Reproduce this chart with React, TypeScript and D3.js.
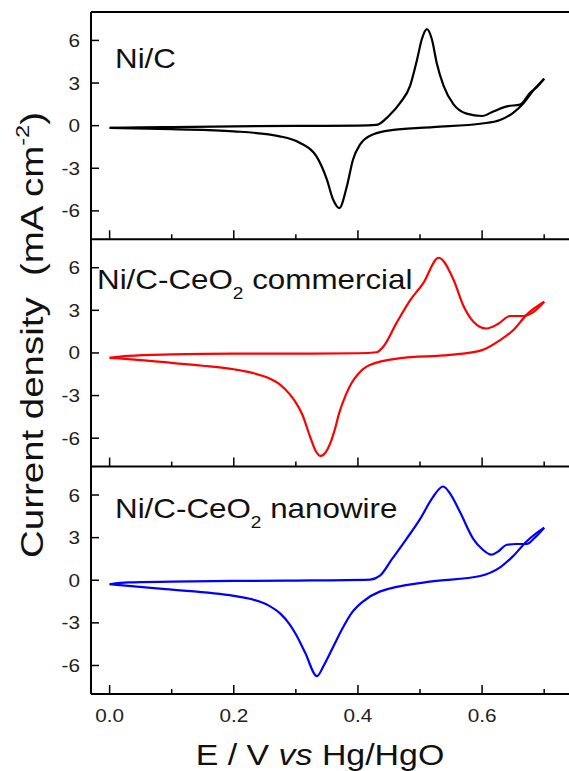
import React from "react";
import * as d3 from "d3";

// potential (V vs Hg/HgO) and current density (mA cm-2)
// forward (anodic) scan and reverse (cathodic) scan, both listed with E ascending
const niC_fwd_E = [0, 0.05, 0.1, 0.2, 0.3, 0.4, 0.43, 0.45, 0.468, 0.484, 0.495, 0.503, 0.511, 0.519, 0.527, 0.538, 0.554, 0.575, 0.6, 0.618, 0.64, 0.661, 0.677, 0.69, 0.7];
const niC_fwd_j = [-0.15, -0.12, -0.1, -0.05, -0.02, 0, 0.05, 0.7, 1.6, 2.8, 4.6, 6.1, 6.8, 6.1, 4.4, 2.8, 1.5, 0.85, 0.68, 1.0, 1.36, 1.48, 2.3, 2.8, 3.3];
const niC_rev_E = [0, 0.1, 0.2, 0.274, 0.306, 0.333, 0.35, 0.36, 0.37, 0.382, 0.392, 0.403, 0.425, 0.457, 0.521, 0.6, 0.629, 0.65, 0.667, 0.683, 0.7];
const niC_rev_j = [-0.15, -0.25, -0.4, -0.75, -1.2, -2.15, -3.8, -5.2, -5.8, -4.3, -2.4, -1.35, -0.6, -0.3, -0.1, 0.15, 0.4, 0.9, 1.6, 2.5, 3.3];

const comm_fwd_E = [0, 0.03, 0.1, 0.2, 0.3, 0.4, 0.43, 0.441, 0.462, 0.484, 0.505, 0.53, 0.554, 0.57, 0.586, 0.607, 0.626, 0.645, 0.667, 0.68, 0.69, 0.7];
const comm_fwd_j = [-0.35, -0.2, -0.1, -0.05, -0.05, -0.02, 0.05, 0.45, 2.1, 3.7, 4.9, 6.7, 5.15, 3.3, 2.2, 1.72, 2.05, 2.6, 2.6, 2.8, 3.15, 3.6];
const comm_rev_E = [0, 0.05, 0.1, 0.15, 0.2, 0.23, 0.255, 0.275, 0.29, 0.3, 0.31, 0.323, 0.332, 0.34, 0.348, 0.355, 0.362, 0.37, 0.38, 0.39, 0.4, 0.419, 0.468, 0.548, 0.6, 0.629, 0.65, 0.672, 0.7];
const comm_rev_j = [-0.35, -0.5, -0.7, -0.9, -1.15, -1.4, -1.75, -2.25, -2.9, -3.5, -4.3, -5.9, -6.9, -7.25, -7.0, -6.4, -5.5, -4.2, -3.0, -2.1, -1.5, -0.85, -0.37, -0.14, 0.2, 0.9, 1.6, 2.7, 3.6];

const nano_fwd_E = [0, 0.03, 0.1, 0.2, 0.3, 0.42, 0.435, 0.455, 0.478, 0.5, 0.52, 0.537, 0.55, 0.565, 0.586, 0.6, 0.615, 0.625, 0.64, 0.655, 0.672, 0.685, 0.7];
const nano_fwd_j = [-0.28, -0.15, -0.1, -0.05, -0.02, 0.05, 0.3, 1.5, 2.9, 4.3, 5.8, 6.6, 6.0, 4.75, 2.9, 2.2, 1.8, 2.0, 2.5, 2.55, 2.55, 3.0, 3.7];
const nano_rev_E = [0, 0.09, 0.2, 0.23, 0.255, 0.275, 0.29, 0.3, 0.315, 0.334, 0.345, 0.36, 0.375, 0.39, 0.408, 0.435, 0.516, 0.597, 0.629, 0.65, 0.672, 0.7];
const nano_rev_j = [-0.28, -0.63, -1.1, -1.35, -1.75, -2.35, -3.1, -3.8, -5.1, -6.75, -6.0, -4.7, -3.4, -2.3, -1.5, -0.8, -0.1, 0.3, 0.9, 1.7, 2.75, 3.7];

const yTicks = [-6, -3, 0, 3, 6];
const xMajor = [0, 0.2, 0.4, 0.6];
const xMinor = [0.1, 0.3, 0.5, 0.7];

const panels = [
  { name: "Ni/C", sub: "", rest: "", color: "#000000", fE: niC_fwd_E, fj: niC_fwd_j, rE: niC_rev_E, rj: niC_rev_j, lx: 115, ly: 56 },
  { name: "Ni/C-CeO", sub: "2", rest: " commercial", color: "#ff0000", fE: comm_fwd_E, fj: comm_fwd_j, rE: comm_rev_E, rj: comm_rev_j, lx: 97, ly: 50 },
  { name: "Ni/C-CeO", sub: "2", rest: " nanowire", color: "#0000ff", fE: nano_fwd_E, fj: nano_fwd_j, rE: nano_rev_E, rj: nano_rev_j, lx: 115, ly: 51 },
];

const W = 569;
const H = 771;
const left = 91;
const right = 569;
const top0 = 12;
const panelH = 227.3;
const font = "Arial, 'Liberation Sans', sans-serif";

export default function App() {
  const x = d3.scaleLinear().domain([-0.03, 0.74]).range([left, right]);
  const bottom = top0 + panelH * panels.length;

  return (
    <svg width={W} height={H} style={{ position: "absolute", left: 0, top: 0, background: "#fff" }} fontFamily={font}>
      {panels.map((p, i) => {
        const t = top0 + i * panelH;
        const y = d3.scaleLinear().domain([-8, 8]).range([t + panelH, t]);
        const line = d3.line<[number, number]>().x(d => x(d[0])).y(d => y(d[1])).curve(d3.curveMonotoneX);
        const fwd = p.fE.map((e, k) => [e, p.fj[k]] as [number, number]);
        const rev = p.rE.map((e, k) => [e, p.rj[k]] as [number, number]);
        return (
          <g key={i}>
            <path d={line(fwd) || ""} fill="none" stroke={p.color} strokeWidth={2.2} strokeLinejoin="round" />
            <path d={line(rev) || ""} fill="none" stroke={p.color} strokeWidth={2.2} strokeLinejoin="round" />
            {/* bottom axis with inward ticks */}
            <line x1={left} x2={right} y1={t + panelH} y2={t + panelH} stroke="#000" strokeWidth={2} />
            {xMajor.map(v => (
              <line key={"M" + v} x1={x(v)} x2={x(v)} y1={t + panelH} y2={t + panelH - 9} stroke="#000" strokeWidth={1.5} />
            ))}
            {xMinor.map(v => (
              <line key={"m" + v} x1={x(v)} x2={x(v)} y1={t + panelH} y2={t + panelH - 5} stroke="#000" strokeWidth={1.5} />
            ))}
            {yTicks.map(v => (
              <g key={"y" + v}>
                <line x1={left} x2={left + 8} y1={y(v)} y2={y(v)} stroke="#000" strokeWidth={1.5} />
                <text transform={`translate(80,${y(v)}) scale(1.15,1)`} textAnchor="end" dominantBaseline="central" fontSize={18} fill="#222">
                  {v}
                </text>
              </g>
            ))}
            <text transform={`translate(${p.lx},${t + p.ly}) scale(1.12,1)`} fontSize={28} fill="#111">
              {p.name}
              {p.sub && <tspan fontSize={17} dy={10}>{p.sub}</tspan>}
              {p.rest && <tspan dy={p.sub ? -10 : 0}>{p.rest}</tspan>}
            </text>
          </g>
        );
      })}
      <line x1={left} x2={right} y1={top0} y2={top0} stroke="#000" strokeWidth={2} />
      <line x1={left} x2={left} y1={top0} y2={bottom} stroke="#000" strokeWidth={2} />
      {xMajor.map(v => (
        <text key={"xl" + v} transform={`translate(${x(v)},722) scale(1.15,1)`} textAnchor="middle" fontSize={18} fill="#222">
          {v.toFixed(1)}
        </text>
      ))}
      <text transform="translate(320,765) scale(1.13,1)" textAnchor="middle" fontSize={30} fill="#111">
        E / V <tspan fontStyle="italic">vs</tspan> Hg/HgO
      </text>
      <text transform="translate(43,335) rotate(-90) scale(1.24,1)" textAnchor="middle" fontSize={31} fill="#111">
        {"Current density\u00a0\u00a0(mA cm"}<tspan fontSize={19} dy={-14}>-2</tspan><tspan dy={14}>)</tspan>
      </text>
    </svg>
  );
}
